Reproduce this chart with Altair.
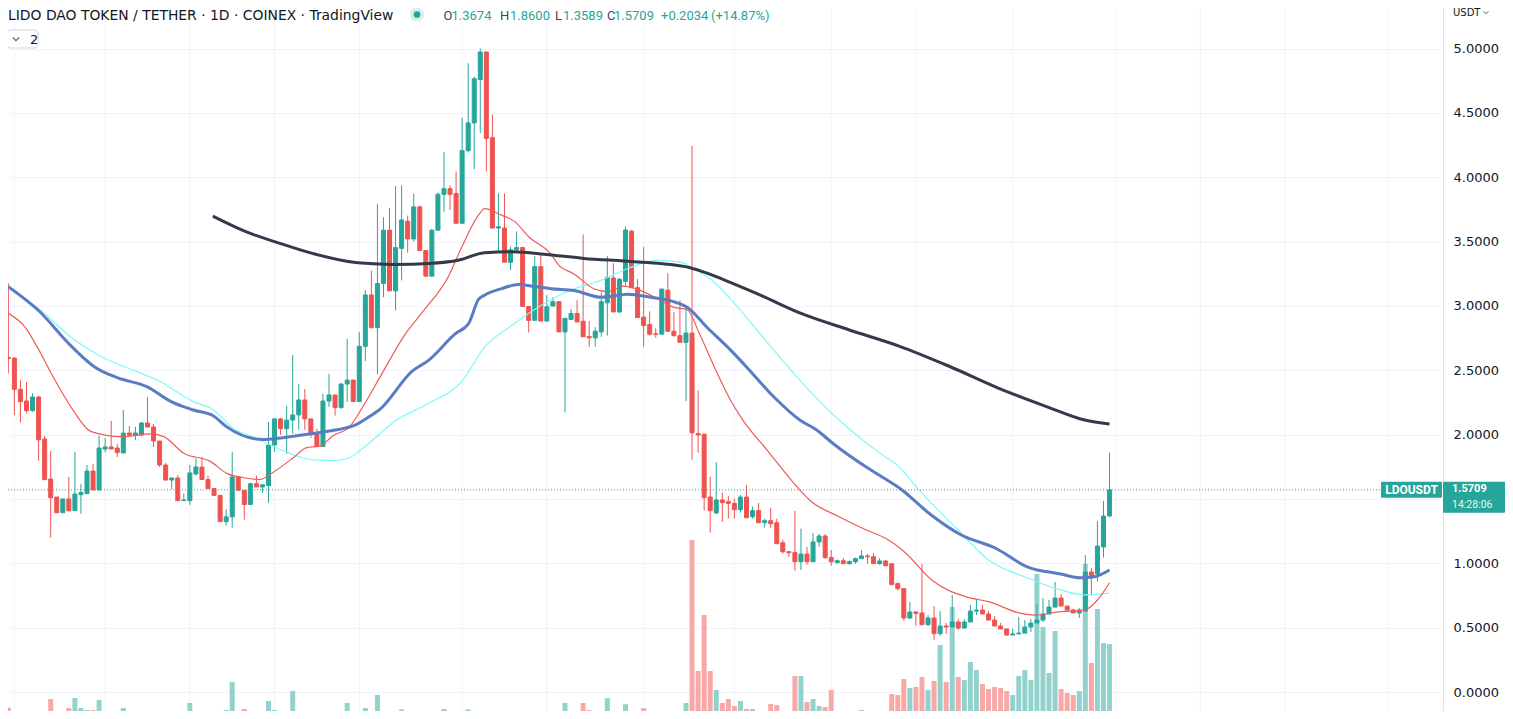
import altair as alt
import pandas as pd

# ---------------- data (daily candles, LDO/USDT) ----------------
opens = [
    2.600, 2.595, 2.352, 2.261, 2.186, 2.292, 1.966, 1.655, 1.515, 1.393,
    1.500, 1.409, 1.533, 1.541, 1.717, 1.570, 1.888, 1.904, 1.896, 1.857,
    2.012, 1.997, 1.997, 2.090, 2.059, 1.950, 1.764, 1.647, 1.663, 1.487,
    1.487, 1.694, 1.748, 1.651, 1.581, 1.528, 1.324, 1.361, 1.671, 1.567,
    1.457, 1.618, 1.593, 1.604, 1.919, 2.122, 2.046, 2.113, 2.153, 2.269,
    2.122, 2.001, 1.908, 2.261, 2.308, 2.210, 2.393, 2.424, 2.257, 2.686,
    3.085, 2.831, 3.174, 3.588, 3.117, 3.447, 3.658, 3.520, 3.769, 3.430,
    3.231, 3.588, 3.867, 3.911, 3.874, 3.642, 4.206, 4.422, 4.758, 4.973,
    4.307, 3.605, 3.605, 3.339, 3.436, 3.453, 2.996, 2.888, 3.305, 2.882,
    2.999, 3.033, 2.798, 2.895, 2.941, 2.881, 2.763, 2.752, 2.798, 3.024,
    3.217, 2.953, 3.191, 3.581, 3.142, 2.913, 2.855, 2.783, 2.780, 3.122,
    2.803, 2.769, 2.717, 2.789, 2.009, 2.003, 1.515, 1.391, 1.492, 1.479,
    1.466, 1.417, 1.515, 1.362, 1.409, 1.315, 1.331, 1.315, 1.160, 1.090,
    1.085, 1.012, 1.072, 1.012, 1.166, 1.212, 1.044, 1.005, 1.020, 0.997,
    1.012, 1.036, 1.057, 1.051, 0.997, 1.018, 0.997, 0.842, 0.803, 0.575,
    0.622, 0.614, 0.523, 0.575, 0.453, 0.513, 0.505, 0.544, 0.497, 0.544,
    0.629, 0.637, 0.606, 0.559, 0.513, 0.490, 0.443, 0.451, 0.458, 0.505,
    0.536, 0.559, 0.606, 0.660, 0.730, 0.668, 0.637, 0.614, 0.629, 0.932,
    0.917, 1.127, 1.3674,
]
highs = [
    3.175, 2.595, 2.424, 2.409, 2.321, 2.300, 1.989, 1.873, 1.515, 1.500,
    1.671, 1.865, 1.616, 1.764, 1.772, 1.994, 1.974, 2.106, 1.927, 2.191,
    2.067, 2.061, 2.098, 2.292, 2.082, 1.950, 1.779, 1.663, 1.686, 1.541,
    1.764, 1.815, 1.826, 1.682, 1.581, 1.528, 1.420, 1.866, 1.671, 1.567,
    1.626, 1.682, 1.610, 2.098, 2.129, 2.130, 2.224, 2.618, 2.393, 2.354,
    2.122, 2.044, 2.317, 2.472, 2.308, 2.400, 2.743, 2.424, 2.797, 3.124,
    3.273, 3.790, 3.689, 3.763, 3.931, 3.937, 3.702, 3.874, 3.780, 3.430,
    3.598, 3.880, 4.196, 3.937, 4.045, 4.462, 4.886, 4.781, 5.000, 4.973,
    4.486, 3.874, 3.874, 3.460, 3.578, 3.460, 2.996, 3.386, 3.406, 3.083,
    3.067, 3.033, 2.904, 2.976, 3.044, 3.555, 2.881, 2.835, 3.105, 3.386,
    3.331, 3.217, 3.618, 3.590, 3.208, 3.458, 2.958, 2.826, 3.131, 3.254,
    2.953, 3.044, 2.996, 4.244, 2.344, 2.003, 1.673, 1.787, 1.549, 1.523,
    1.502, 1.531, 1.608, 1.440, 1.469, 1.347, 1.432, 1.347, 1.183, 1.092,
    1.409, 1.269, 1.127, 1.235, 1.230, 1.228, 1.103, 1.030, 1.041, 1.020,
    1.044, 1.103, 1.072, 1.080, 1.041, 1.025, 0.997, 0.852, 0.803, 0.699,
    0.622, 0.995, 0.598, 0.668, 0.629, 0.536, 0.754, 0.567, 0.567, 0.676,
    0.723, 0.676, 0.629, 0.591, 0.536, 0.490, 0.490, 0.583, 0.559, 0.567,
    0.684, 0.730, 0.715, 0.855, 0.761, 0.668, 0.645, 0.653, 1.064, 0.963,
    1.329, 1.484, 1.8600,
]
lows = [
    2.476, 2.152, 2.093, 2.165, 2.178, 1.797, 1.650, 1.199, 1.390, 1.393,
    1.401, 1.409, 1.385, 1.541, 1.570, 1.570, 1.862, 1.888, 1.826, 1.857,
    1.984, 1.958, 1.990, 2.059, 1.904, 1.748, 1.647, 1.577, 1.487, 1.487,
    1.455, 1.682, 1.651, 1.581, 1.528, 1.324, 1.294, 1.277, 1.567, 1.339,
    1.457, 1.593, 1.547, 1.471, 1.866, 1.998, 1.849, 2.007, 2.037, 2.037,
    1.976, 1.908, 1.908, 2.215, 2.148, 2.200, 2.254, 2.257, 2.257, 2.572,
    2.824, 2.468, 3.067, 3.117, 2.966, 3.198, 3.413, 3.500, 3.430, 3.231,
    3.231, 3.588, 3.732, 3.746, 3.642, 3.642, 4.193, 4.062, 4.344, 4.045,
    3.605, 3.420, 3.339, 3.278, 3.420, 2.996, 2.794, 2.888, 2.882, 2.881,
    2.999, 2.798, 2.172, 2.890, 2.875, 2.760, 2.683, 2.683, 2.760, 2.769,
    2.953, 2.944, 3.159, 3.142, 2.905, 2.683, 2.769, 2.752, 2.780, 2.803,
    2.760, 2.717, 2.261, 1.805, 1.859, 1.409, 1.238, 1.383, 1.323, 1.347,
    1.347, 1.393, 1.354, 1.347, 1.315, 1.277, 1.277, 1.152, 1.075, 1.051,
    0.943, 0.948, 0.989, 1.012, 1.129, 1.036, 0.981, 0.997, 0.997, 0.989,
    0.997, 1.036, 0.997, 0.997, 0.989, 0.981, 0.834, 0.787, 0.554, 0.567,
    0.515, 0.523, 0.515, 0.406, 0.437, 0.453, 0.505, 0.482, 0.497, 0.544,
    0.598, 0.606, 0.559, 0.513, 0.490, 0.437, 0.443, 0.451, 0.458, 0.466,
    0.536, 0.544, 0.606, 0.660, 0.668, 0.622, 0.614, 0.575, 0.629, 0.754,
    0.862, 1.044, 1.3589,
]
closes = [
    2.590, 2.352, 2.256, 2.186, 2.292, 1.960, 1.650, 1.510, 1.393, 1.500,
    1.409, 1.538, 1.549, 1.717, 1.570, 1.896, 1.904, 1.888, 1.860, 2.012,
    1.997, 2.012, 2.090, 2.059, 1.950, 1.764, 1.647, 1.663, 1.487, 1.492,
    1.702, 1.748, 1.651, 1.581, 1.528, 1.324, 1.361, 1.671, 1.567, 1.457,
    1.618, 1.593, 1.610, 1.919, 2.122, 2.046, 2.113, 2.153, 2.269, 2.122,
    2.001, 1.908, 2.261, 2.308, 2.210, 2.393, 2.424, 2.257, 2.686, 3.085,
    2.831, 3.174, 3.588, 3.117, 3.453, 3.668, 3.520, 3.769, 3.430, 3.231,
    3.588, 3.867, 3.911, 3.867, 3.642, 4.206, 4.422, 4.765, 4.973, 4.301,
    3.605, 3.615, 3.339, 3.436, 3.453, 2.996, 2.888, 3.305, 2.882, 2.993,
    3.033, 2.798, 2.904, 2.941, 2.875, 2.760, 2.752, 2.803, 3.033, 3.222,
    2.953, 3.208, 3.590, 3.142, 2.910, 2.847, 2.780, 2.778, 3.131, 2.803,
    2.769, 2.717, 2.789, 2.014, 1.997, 1.510, 1.409, 1.492, 1.471, 1.466,
    1.417, 1.515, 1.354, 1.409, 1.315, 1.331, 1.308, 1.152, 1.090, 1.082,
    1.012, 1.072, 1.012, 1.166, 1.212, 1.044, 1.012, 1.020, 0.997, 1.015,
    1.036, 1.057, 1.051, 0.997, 1.018, 0.981, 0.834, 0.803, 0.575, 0.622,
    0.611, 0.523, 0.575, 0.453, 0.513, 0.505, 0.544, 0.497, 0.544, 0.629,
    0.637, 0.606, 0.559, 0.513, 0.490, 0.443, 0.451, 0.458, 0.505, 0.536,
    0.559, 0.606, 0.660, 0.730, 0.668, 0.637, 0.614, 0.637, 0.932, 0.901,
    1.134, 1.3675, 1.5709,
]
# volume, thousands of LDO
volumes = [
    57, 35, 35, 20, 15, 40, 40, 100, 35, 35, 55, 105, 55, 45, 45, 95, 35, 40, 35, 55,
    15, 20, 15, 25, 35, 40, 35, 35, 35, 35, 80,
    33, 33, 30, 33, 33, 45, 185, 25, 50, 25, 30, 25, 90, 45, 20, 33, 140, 33, 20,
    25, 15, 40, 30, 15, 10, 80, 15, 30, 55, 33,
    120, 40, 30, 35, 48, 30, 35, 28, 18, 24, 35, 50, 18, 35, 28, 48, 28, 40, 28,
    28, 22, 18, 28, 13, 13, 40, 28, 18, 13,
    13, 19, 80, 13, 24, 80, 45, 19, 39, 104, 39, 13, 74, 30, 24, 54, 19, 19, 32, 19,
    24, 32, 80, 895, 240, 520, 240, 145, 80, 100,
    65, 90, 50, 50, 35, 40, 75, 70, 35, 35, 215, 215, 85, 100, 65, 60, 145, 35, 35, 25,
    25, 45, 35, 25, 30, 25, 125, 120, 200, 155,
    160, 210, 145, 190, 370, 185, 560, 210, 195, 285, 245, 175, 150, 160, 155, 140,
    120, 215, 245, 195, 725, 460, 230, 440, 150, 130, 120, 140, 775, 280, 550, 380, 375,
]

# moving-average lines (candle index, value)
ma_dark_i = [33.8, 39.9, 44.0, 50.8, 57.4, 60.2, 64.0, 69.5, 74.5, 78.7, 83.2, 89.7, 95.1, 101.7,
             107.3, 112.7, 115.5, 119.3, 124.2, 130.8, 139.0, 147.2, 155.4, 163.6, 171.8, 177.9, 182.0]
ma_dark_v = [3.698, 3.565, 3.500, 3.401, 3.337, 3.328, 3.322, 3.329, 3.356, 3.413, 3.420, 3.396, 3.369,
             3.349, 3.331, 3.297, 3.254, 3.182, 3.085, 2.945, 2.813, 2.688, 2.533, 2.362, 2.214, 2.113, 2.082]

ma_blue_i = [0.0, 4.9, 10.5, 14.2, 18.0, 22.9, 26.9, 30.6, 33.9, 36.1, 42.1, 45.4, 49.8, 53.6, 57.4,
             60.0, 61.3, 66.8, 69.5, 73.8, 76.1, 77.7, 78.7, 81.5, 84.3, 87.0, 89.7, 93.5, 98.0, 102.4,
             106.1, 109.9, 112.2, 115.5, 119.3, 121.7, 126.7, 130.8, 133.6, 136.2, 141.8, 143.9, 147.7,
             152.1, 157.5, 163.1, 168.5, 173.9, 177.2, 179.5, 182.0]
ma_blue_v = [3.150, 2.968, 2.683, 2.528, 2.442, 2.372, 2.256, 2.191, 2.145, 2.060, 1.962, 1.976, 2.004,
             2.032, 2.075, 2.150, 2.192, 2.495, 2.579, 2.781, 2.865, 3.050, 3.083, 3.134, 3.167, 3.151,
             3.134, 3.119, 3.067, 3.090, 3.067, 3.033, 2.990, 2.832, 2.660, 2.541, 2.284, 2.113, 2.036,
             1.935, 1.748, 1.686, 1.570, 1.391, 1.220, 1.119, 0.971, 0.917, 0.888, 0.896, 0.948]

ma_cyan_i = [0.0, 4.9, 10.5, 15.4, 21.3, 24.6, 30.6, 33.9, 37.2, 40.0, 45.4, 48.2, 50.8, 54.1, 56.4,
             58.5, 64.0, 69.5, 74.9, 78.7, 83.2, 89.7, 93.5, 98.0, 102.4, 107.3, 111.1, 113.2, 116.5,
             119.3, 125.8, 130.8, 137.3, 143.9, 147.2, 150.5, 157.0, 162.0, 168.5, 173.9, 177.9, 182.0]
ma_cyan_v = [3.140, 2.984, 2.751, 2.605, 2.489, 2.424, 2.256, 2.193, 2.046, 1.990, 1.877, 1.826, 1.801,
             1.798, 1.820, 1.890, 2.108, 2.243, 2.411, 2.680, 2.848, 3.050, 3.133, 3.199, 3.291, 3.354,
             3.340, 3.291, 3.191, 3.056, 2.696, 2.424, 2.113, 1.860, 1.751, 1.570, 1.259, 1.026, 0.886,
             0.793, 0.754, 0.769]

ma_red_i = [0.0, 2.7, 4.9, 7.7, 10.5, 13.7, 18.7, 23.6, 25.7, 29.0, 33.4, 36.1, 38.9, 41.6, 43.8,
            47.1, 49.2, 51.5, 53.6, 56.4, 58.5, 61.8, 65.6, 68.4, 72.8, 74.9, 77.7, 78.7, 81.5, 83.7,
            86.0, 89.7, 90.9, 93.5, 96.8, 99.1, 101.7, 104.5, 107.3, 109.9, 112.2, 114.3, 116.5, 119.3,
            121.4, 125.4, 130.8, 132.4, 137.3, 141.8, 145.0, 148.3, 152.6, 158.2, 162.0, 167.4, 169.7,
            173.9, 177.9, 180.0, 182.0]
ma_red_v = [2.942, 2.839, 2.670, 2.424, 2.204, 2.023, 1.984, 2.005, 1.984, 1.855, 1.792, 1.699, 1.665,
            1.651, 1.708, 1.820, 1.897, 1.911, 1.990, 2.060, 2.210, 2.478, 2.781, 2.949, 3.235, 3.453,
            3.705, 3.756, 3.705, 3.655, 3.537, 3.400, 3.320, 3.248, 3.133, 3.110, 3.154, 3.119, 3.056,
            2.990, 2.970, 2.775, 2.545, 2.273, 2.113, 1.880, 1.570, 1.492, 1.362, 1.259, 1.194, 1.080,
            0.870, 0.741, 0.702, 0.611, 0.598, 0.624, 0.637, 0.715, 0.849]

# time-axis grid positions (candle index)
grid_idx = [1, 16, 30, 44, 58, 75, 89, 105, 120, 136, 150, 166, 183, 197, 211, 228]
price_ticks = [0.0, 0.5, 1.0, 1.5, 2.0, 2.5, 3.0, 3.5, 4.0, 4.5, 5.0]

title_text = "LIDO DAO TOKEN / TETHER \u00b7 1D \u00b7 COINEX \u00b7 TradingView"
symbol = "LDOUSDT"
countdown = "14:28:06"
currency = "USDT"

# ---------------- chart ----------------
UP, DOWN = "#26a69a", "#ef5350"
VUP, VDOWN = "#93d2cc", "#f7a9a7"
TXT = "#131722"
GRIDC = "#f0f3fa"

n = len(opens)
candles = pd.DataFrame({"i": list(range(n)), "o": opens, "h": highs, "l": lows,
                        "c": closes, "v": volumes})

W, H = 1435, 703
xs = alt.Scale(domain=[0.771, 0.771 + W / 6.093], nice=False, zero=False)
ys = alt.Scale(domain=[-0.1476, 5.3147], nice=False, zero=False)
vs = alt.Scale(domain=[40, 3555], nice=False, zero=False)

# the 1.5000 tick label sits under the last-price tag, so it is hidden (its grid line stays)
price_axis = alt.Axis(orient="right", values=price_ticks, format=".4f", title=None,
                      labelExpr="abs(datum.value - 1.5) < 0.001 ? '' : datum.label",
                      labelFont="DejaVu Sans", labelFontSize=13, labelColor=TXT,
                      ticks=False, tickSize=0, labelPadding=10,
                      domain=True, domainColor="#e0e3eb", domainWidth=1,
                      grid=True, gridColor=GRIDC, gridWidth=1)

up_test = "datum.c >= datum.o"
X = alt.X("i:Q", scale=xs, axis=None)

grid = alt.Chart(pd.DataFrame({"g": grid_idx})).mark_rule(color=GRIDC, strokeWidth=1).encode(
    x=alt.X("g:Q", scale=xs, axis=None))

vol = alt.Chart(candles).mark_bar(size=5, clip=True).encode(
    x=X, y=alt.Y("v:Q", scale=vs, axis=None), y2=alt.datum(0),
    color=alt.condition(up_test, alt.value(VUP), alt.value(VDOWN)))

wick = alt.Chart(candles).mark_rule(strokeWidth=1, clip=True).encode(
    x=X, y=alt.Y("l:Q", scale=ys, axis=price_axis), y2="h:Q",
    color=alt.condition(up_test, alt.value(UP), alt.value(DOWN)))

body = alt.Chart(candles).mark_bar(size=4, strokeWidth=1, clip=True).encode(
    x=X, y=alt.Y("o:Q", scale=ys, axis=price_axis), y2="c:Q",
    color=alt.condition(up_test, alt.value(UP), alt.value(DOWN)),
    stroke=alt.condition(up_test, alt.value(UP), alt.value(DOWN)))


def ma_line(idx, vals, color, width):
    df = pd.DataFrame({"i": idx, "v": vals})
    return alt.Chart(df).mark_line(color=color, strokeWidth=width, interpolate="monotone",
                                   clip=True).encode(
        x=X, y=alt.Y("v:Q", scale=ys, axis=price_axis))


lines = [
    ma_line(ma_cyan_i, ma_cyan_v, "#7ff8f8", 1.2),
    ma_line(ma_red_i, ma_red_v, "#f05a57", 1.2),
    ma_line(ma_blue_i, ma_blue_v, "#5b7cc4", 3),
    ma_line(ma_dark_i, ma_dark_v, "#353a4b", 3),
]

last = pd.DataFrame({"p": [closes[-1]], "sym": [symbol], "txt": [f"{closes[-1]:.4f}"],
                     "cd": [countdown]})
PY = alt.Y("p:Q", scale=ys, axis=price_axis)

pline = alt.Chart(last).mark_rule(color=UP, strokeDash=[1, 2], strokeWidth=1).encode(
    y=PY, x=alt.value(0), x2=alt.value(1373))
sym_box = alt.Chart(last).mark_rect(color=UP, yOffset=-8, y2Offset=8, cornerRadius=1).encode(
    y=PY, y2="p:Q", x=alt.value(1373), x2=alt.value(1434))
sym_txt = alt.Chart(last).mark_text(color="white", font="Roboto", fontWeight="bold", fontSize=12,
                                    align="center", baseline="middle").encode(
    y=PY, x=alt.value(1403.5), text="sym:N")
px_box = alt.Chart(last).mark_rect(color=UP, yOffset=-8, y2Offset=23, cornerRadius=1).encode(
    y=PY, y2="p:Q", x=alt.value(1435), x2=alt.value(1497))
px_txt = alt.Chart(last).mark_text(color="white", font="Roboto", fontWeight="bold", fontSize=11,
                                   align="left", baseline="middle", dy=-1).encode(
    y=PY, x=alt.value(1444), text="txt:N")
cd_txt = alt.Chart(last).mark_text(color="white", opacity=0.9, font="Roboto", fontSize=10.5,
                                   align="left", baseline="middle", dy=15).encode(
    y=PY, x=alt.value(1444), text="cd:N")

one = pd.DataFrame({"k": [0]})


def label(text, x, y, color, size, font="DejaVu Sans", weight="normal", align="left"):
    return alt.Chart(pd.DataFrame({"t": [text]})).mark_text(
        color=color, fontSize=size, font=font, fontWeight=weight, align=align,
        baseline="middle").encode(x=alt.value(x), y=alt.value(y), text="t:N")


header = [label(title_text, 0, 7.5, TXT, 13.9)]
chg = closes[-1] - closes[-2]
pct = chg / closes[-2] * 100
GRAY = "#434651"
segs = [("O", 435.5, GRAY), (f"{opens[-1]:.4f}", 443.5, UP),
        ("H", 492, GRAY), (f"{highs[-1]:.4f}", 502, UP),
        ("L", 547, GRAY), (f"{lows[-1]:.4f}", 555, UP),
        ("C", 599, GRAY), (f"{closes[-1]:.4f}", 606, UP),
        (f"{chg:+.4f}", 653, UP), (f"({pct:+.2f}%)", 703, UP)]
for t, x, col in segs:
    header.append(label(t, x, 7.5, col, 13, font="Roboto"))

dot_outer = alt.Chart(one).mark_point(filled=True, color=UP, opacity=0.18, size=200,
                                      shape="circle").encode(x=alt.value(409), y=alt.value(6.5))
dot_inner = alt.Chart(one).mark_point(filled=True, color=UP, opacity=1, size=45,
                                      shape="circle").encode(x=alt.value(409), y=alt.value(6.5))

btn = alt.Chart(one).mark_rect(fill="white", stroke="#d1d4dc", strokeWidth=1, cornerRadius=4).encode(
    x=alt.value(-1), x2=alt.value(30), y=alt.value(22), y2=alt.value(40))
chev = alt.Chart(one).mark_point(shape="M-1,-0.5L0,0.5L1,-0.5", filled=False, color=TXT,
                                 strokeWidth=1.2, size=40).encode(x=alt.value(8), y=alt.value(31))
btn_txt = label("2", 22, 31.5, TXT, 13)

cur_txt = label(currency, 1445, 4.5, TXT, 10)
cur_chev = alt.Chart(one).mark_point(shape="M-1,-0.5L0,0.5L1,-0.5", filled=False, color=TXT,
                                     strokeWidth=1, size=25).encode(x=alt.value(1478), y=alt.value(4.5))

price_layer = alt.layer(wick, body, *lines, pline, sym_box, sym_txt, px_box, px_txt, cd_txt,
                        *header, dot_outer, dot_inner, btn, chev, btn_txt, cur_txt, cur_chev)

chart = alt.layer(alt.layer(grid, vol), price_layer).resolve_scale(y="independent").properties(
    width=W, height=H,
    padding={"left": 0, "right": 62, "top": 0, "bottom": 0},
    autosize=alt.AutoSizeParams(type="none"),
    background="white",
).configure_view(stroke=None)

chart.save("out.html", embed_options={"renderer": "svg", "actions": False})
